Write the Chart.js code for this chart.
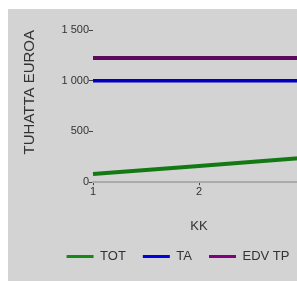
<!DOCTYPE html>
<html>
<head>
<meta charset="utf-8">
<script src="https://cdn.jsdelivr.net/npm/chart.js@4"></script>
<style>
    html, body { margin: 0; padding: 0; background: #d3d3d3; overflow: hidden; width: 297px; height: 281px; }
    #top { position: absolute; left: 0; top: 0; width: 297px; height: 9px; background: #ffffff; }
    #left { position: absolute; left: 0; top: 0; width: 8px; height: 281px; background: #ffffff; }
    #wrap { position: absolute; left: 8px; top: 9px; width: 289px; height: 272px; overflow: hidden; background: #d3d3d3; }
    #myChart { display: block; }
</style>
</head>
<body>
<div id="top"></div>
<div id="left"></div>
<div id="wrap"><canvas id="myChart" width="340" height="272"></canvas></div>
<script>
// KK-luvut ja sarjat
const kuukaudet = ['1', '2', '3'];
const totArvot = [80, 160, 240];
const taArvot = [1000, 1000, 1000];
const edvTpArvot = [1225, 1225, 1225];
const yTicks = [0, 500, 1000, 1500];

function muotoile(value) {
    return String(value).replace(/\B(?=(\d{3})+(?!\d))/g, ' ');
}

// selite vähän oikealle, kuten alkuperäisessä
const legendShift = {
    id: 'legendShift',
    afterLayout(chart) {
        if (chart.legend) {
            chart.legend.left += 17;
            chart.legend.right += 17;
        }
    }
};

document.addEventListener('DOMContentLoaded', () => {
    const ctx = document.getElementById('myChart').getContext('2d');
    new Chart(ctx, {
        type: 'line',
        data: {
            labels: kuukaudet,
            datasets: [{
                label: 'TOT',
                data: totArvot,
                borderColor: '#137a13',
                backgroundColor: '#158a15',
                borderWidth: 4,
                pointRadius: 0,
            }, {
                label: 'TA',
                data: taArvot,
                borderColor: '#0000c4',
                backgroundColor: '#0000e0',
                borderWidth: 3.5,
                pointRadius: 0,
            }, {
                label: 'EDV TP',
                data: edvTpArvot,
                borderColor: '#5c0a5c',
                backgroundColor: '#800080',
                borderWidth: 4,
                pointRadius: 0,
            }]
        },
        plugins: [legendShift],
        options: {
            responsive: false,
            animation: false,
            layout: { padding: { top: 21, left: 9, right: 43, bottom: 8 } },
            scales: {
                x: {
                    afterFit: (scale) => { scale.height += 12; },
                    title: { display: true, text: 'KK', color: '#333', font: { family: 'Liberation Sans', size: 13 }, padding: { top: 8, bottom: -1 } },
                    ticks: { color: '#333', font: { family: 'Liberation Sans', size: 11 }, padding: 0 },
                    grid: { drawOnChartArea: false, drawTicks: true, tickLength: 3, color: '#444' },
                    border: { display: true, color: '#ababab', width: 2 }
                },
                y: {
                    min: 0,
                    max: 1500,
                    afterBuildTicks: (scale) => { scale.ticks = yTicks.map(v => ({ value: v })); },
                    afterFit: (scale) => { scale.width = 76; },
                    title: { display: true, text: 'TUHATTA EUROA', align: 'end', color: '#333', font: { family: 'Liberation Sans', size: 15 } },
                    ticks: {
                        color: '#333',
                        font: { family: 'Liberation Sans', size: 11 },
                        padding: 0,
                        callback: (value) => muotoile(value)
                    },
                    grid: { drawOnChartArea: false, drawTicks: true, tickLength: 4, color: '#444' },
                    border: { display: false }
                }
            },
            plugins: {
                legend: {
                    position: 'bottom',
                    labels: {
                        boxWidth: 27,
                        boxHeight: 3,
                        padding: 17,
                        color: '#333',
                        font: { family: 'Liberation Sans', size: 13 },
                        generateLabels: (chart) => {
                            const items = Chart.defaults.plugins.legend.labels.generateLabels(chart);
                            items.forEach(i => { i.lineWidth = 0; i.strokeStyle = 'transparent'; });
                            return items;
                        }
                    }
                },
                tooltip: { enabled: false }
            }
        }
    });
});
</script>
</body>
</html>
